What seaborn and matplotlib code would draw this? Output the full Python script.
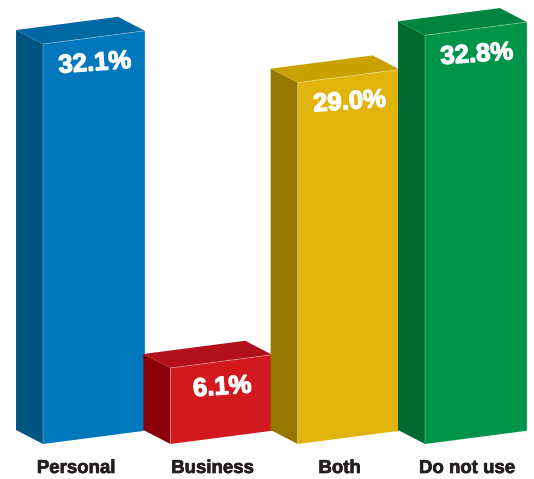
import matplotlib
matplotlib.use("Agg")
import matplotlib.pyplot as plt
import matplotlib.patheffects as pe
import seaborn as sns
from matplotlib.patches import Polygon
from matplotlib.lines import Line2D
from matplotlib.transforms import Affine2D, IdentityTransform, ScaledTranslation
from matplotlib import font_manager

categories = ["Personal", "Business", "Both", "Do not use"]
values = [32.1, 6.1, 29.0, 32.8]
value_labels = ["32.1%", "6.1%", "29.0%", "32.8%"]
front_colors = ["#0078bb", "#d2191f", "#e1b40c", "#00934a"]
side_colors = ["#005583", "#8b0008", "#947700", "#006a30"]
top_colors = ["#0068a2", "#b2101a", "#c9a100", "#00843f"]

sns.set_theme(style="white")
plt.rcParams['font.family'] = ['Liberation Sans', 'DejaVu Sans']
names = {f.name for f in font_manager.fontManager.ttflist}
narrow = 'Liberation Sans Narrow' in names
label_family = 'Liberation Sans Narrow' if narrow else 'Liberation Sans'
label_size = 15.5 if narrow else 13.4

W, H = 534, 479
fig = plt.figure(figsize=(W / 100, H / 100), dpi=100)
ax = fig.add_axes([0, (H - 444) / H, 1, 444 / H])
sns.barplot(x=categories, y=values, hue=categories, palette=front_colors,
            width=0.8, legend=False, saturation=1, ax=ax)
ax.set_xlim(-0.738, 3.456)
ax.set_ylim(0, 444 / 12.46)
for s in ax.spines.values():
    s.set_visible(False)
ax.set_yticks([])
ax.set_xlabel("")
ax.set_ylabel("")

k = 0.13          # shear of the front face (display px per px)
dx, dy = -27, 14  # depth offset in display px

bars = [p for p in ax.patches]
for i, p in enumerate(bars):
    x0, w, h = p.get_x(), p.get_width(), p.get_height()
    (X0, Y0), (X1, Y1) = ax.transData.transform([(x0, 0), (x0 + w, h)])
    shear = Affine2D([[1, 0, 0], [k, 1, -k * X0], [0, 0, 1]])
    p.set_transform(ax.transData + shear)
    p.set_zorder(3 + i + 0.2)
    p.set_clip_on(False)
    p.set_edgecolor("none")
    bl = (X0, Y0)
    tl = (X0, Y1)
    tr = (X1, Y1 + k * (X1 - X0))
    side = Polygon([bl, tl, (tl[0] + dx, tl[1] + dy), (bl[0] + dx, bl[1] + dy)],
                   closed=True, facecolor=side_colors[i], edgecolor="none",
                   transform=IdentityTransform(), zorder=3 + i + 0.1, clip_on=False)
    top = Polygon([tl, tr, (tr[0] + dx, tr[1] + dy), (tl[0] + dx, tl[1] + dy)],
                  closed=True, facecolor=top_colors[i], edgecolor="none",
                  transform=IdentityTransform(), zorder=3 + i + 0.1, clip_on=False)
    fig.add_artist(side)
    fig.add_artist(top)
    edge = Line2D([bl[0], tl[0], tr[0]], [bl[1], tl[1], tr[1]], color="white",
                  alpha=0.35, lw=0.6, transform=IdentityTransform(),
                  zorder=3 + i + 0.25, clip_on=False)
    fig.add_artist(edge)
    cx = (X0 + X1) / 2
    ax.annotate(value_labels[i], xy=(x0 + w / 2, h), xytext=(1, k * (cx - X0) - 26),
                textcoords="offset pixels", ha="center", va="center",
                rotation=4, rotation_mode="anchor",
                color="white", fontsize=18.5, fontweight="bold",
                family=["Liberation Sans", "DejaVu Sans"],
                path_effects=[pe.withStroke(linewidth=0.9, foreground="white")],
                zorder=3 + i + 0.3, annotation_clip=False)

ax.set_xticks(range(len(categories)))
ax.set_xticklabels(categories, fontsize=label_size, fontweight="bold", color="#231f20",
                   family=[label_family, "DejaVu Sans"])
for lab in ax.get_xticklabels():
    lab.set_path_effects([pe.withStroke(linewidth=0.5, foreground="#231f20")])
ax.tick_params(axis="x", length=0, pad=11.5)
label_shift = [-18, -9, -9, -9]
for lab, sh in zip(ax.get_xticklabels(), label_shift):
    lab.set_transform(lab.get_transform() + ScaledTranslation(sh / 100, 0, fig.dpi_scale_trans))

fig.savefig("out.png", dpi=100, facecolor="white")
